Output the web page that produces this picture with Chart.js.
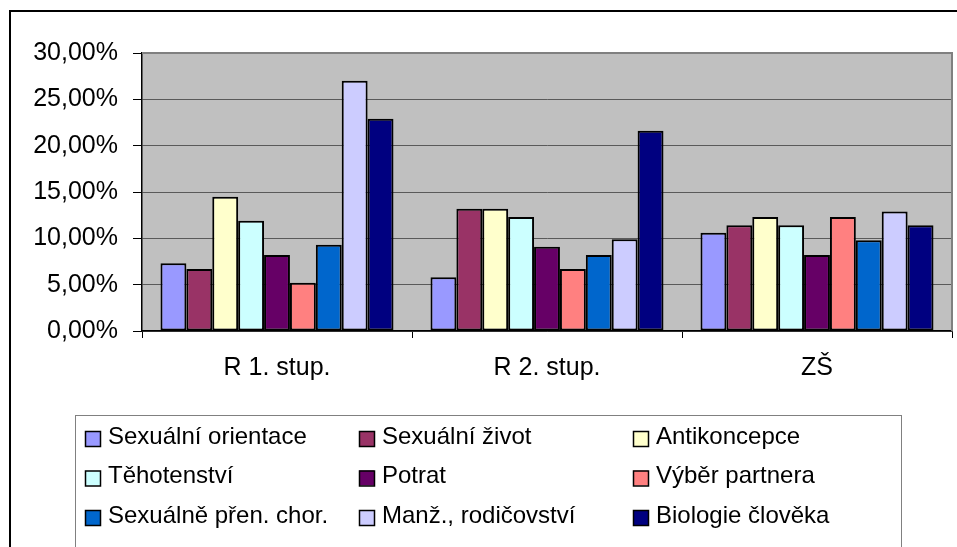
<!DOCTYPE html>
<html>
<head>
<meta charset="utf-8">
<script src="https://cdn.jsdelivr.net/npm/chart.js@4"></script>
<style>
  html, body { margin: 0; padding: 0; background: #fff; overflow: hidden; }
  #c { position: absolute; left: 0; top: 0; }
</style>
</head>
<body>
<canvas id="c" width="957" height="547"></canvas>
<script>
// data (percent)
const categories = ['R 1. stup.', 'R 2. stup.', 'ZŠ'];
const seriesNames = ['Sexuální orientace', 'Sexuální život', 'Antikoncepce',
  'Těhotenství', 'Potrat', 'Výběr partnera',
  'Sexuálně přen. chor.', 'Manž., rodičovství', 'Biologie člověka'];
const sexOrientace = [7.3, 5.8, 10.6];
const sexZivot = [6.7, 13.2, 11.4];
const antikoncepce = [14.5, 13.2, 12.3];
const tehotenstvi = [11.9, 12.3, 11.4];
const potrat = [8.2, 9.1, 8.2];
const vyberPartnera = [5.2, 6.7, 12.3];
const sexPrenChor = [9.3, 8.2, 9.8];
const manzRodic = [27.0, 9.9, 12.9];
const biologie = [22.9, 21.6, 11.4];
const yTicks = [0, 5, 10, 15, 20, 25, 30];

const seriesValues = [sexOrientace, sexZivot, antikoncepce, tehotenstvi, potrat,
  vyberPartnera, sexPrenChor, manzRodic, biologie];
const colors = ['#9999FF', '#993366', '#FFFFCC', '#CCFFFF', '#660066',
  '#FF8080', '#0066CC', '#CCCCFF', '#000080'];

const FONT = "'Liberation Sans', Arial, sans-serif";

// gray plot area, outer frame, plot border
const framePlugin = {
  id: 'frame',
  beforeDraw(chart) {
    const ctx = chart.ctx, a = chart.chartArea;
    ctx.save();
    ctx.fillStyle = '#fff';
    ctx.fillRect(0, 0, chart.width, chart.height);
    ctx.fillStyle = '#C0C0C0';
    ctx.fillRect(a.left, a.top, a.right - a.left, a.bottom - a.top);
    ctx.strokeStyle = '#000';
    ctx.lineWidth = 2;
    ctx.beginPath();
    ctx.moveTo(10, chart.height + 2);
    ctx.lineTo(10, 11);
    ctx.lineTo(chart.width + 2, 11);
    ctx.stroke();
    ctx.restore();
  },
  afterDatasetsDraw(chart) {
    const ctx = chart.ctx, a = chart.chartArea;
    ctx.save();
    ctx.strokeStyle = '#808080';
    ctx.lineWidth = 2;
    ctx.beginPath();
    ctx.moveTo(a.left, a.top);
    ctx.lineTo(a.right, a.top);
    ctx.lineTo(a.right, a.bottom);
    ctx.stroke();
    ctx.restore();
  }
};

// legend in a 3-column grid, like Excel
const gridLegend = {
  id: 'gridLegend',
  afterDraw(chart) {
    const ctx = chart.ctx;
    ctx.save();
    ctx.strokeStyle = '#808080';
    ctx.lineWidth = 1;
    ctx.fillStyle = '#fff';
    ctx.fillRect(75.5, 415.5, 826, 132);
    ctx.strokeRect(75.5, 415.5, 826, 132);
    ctx.font = '24px ' + FONT;
    ctx.textBaseline = 'middle';
    chart.data.datasets.forEach((ds, i) => {
      const col = i % 3, row = Math.floor(i / 3);
      const x = 85 + col * 274;
      const y = 437 + row * 39.5;
      ctx.fillStyle = ds.backgroundColor;
      ctx.fillRect(x, y - 6, 15, 15);
      ctx.strokeStyle = '#000';
      ctx.lineWidth = 1.5;
      ctx.strokeRect(x + 0.5, y - 5.5, 15, 15);
      ctx.fillStyle = '#000';
      ctx.fillText(ds.label, x + 23, y);
    });
    ctx.restore();
  }
};

new Chart(document.getElementById('c'), {
  type: 'bar',
  data: {
    labels: categories,
    datasets: seriesNames.map((name, i) => ({
      label: name,
      data: seriesValues[i],
      backgroundColor: colors[i],
      borderColor: '#000',
      borderWidth: 2,
      borderSkipped: false,
      categoryPercentage: 0.863,
      barPercentage: 1
    }))
  },
  options: {
    responsive: false,
    animation: false,
    devicePixelRatio: 1,
    layout: { padding: { top: 53, right: 5, left: 0, bottom: 0 } },
    plugins: { legend: { display: false }, tooltip: { enabled: false } },
    scales: {
      x: {
        afterFit(s) { s.height = 216; },
        grid: { offset: true, drawOnChartArea: false, tickLength: 7, tickColor: '#000', lineWidth: 1 },
        border: { color: '#000', width: 1.5 },
        ticks: { color: '#000', padding: 15, font: { family: FONT, size: 25 } }
      },
      y: {
        min: 0, max: 30,
        afterFit(s) { s.width = 142; },
        afterBuildTicks(s) { s.ticks = yTicks.map(v => ({ value: v })); },
        grid: { color: '#5a5a5a', lineWidth: 1, tickLength: 9, tickColor: '#000' },
        border: { color: '#000', width: 1.5 },
        ticks: {
          color: '#000', padding: 15, font: { family: FONT, size: 25 },
          callback: v => v.toFixed(2).replace('.', ',') + '%'
        }
      }
    }
  },
  plugins: [framePlugin, gridLegend]
});
</script>
</body>
</html>
